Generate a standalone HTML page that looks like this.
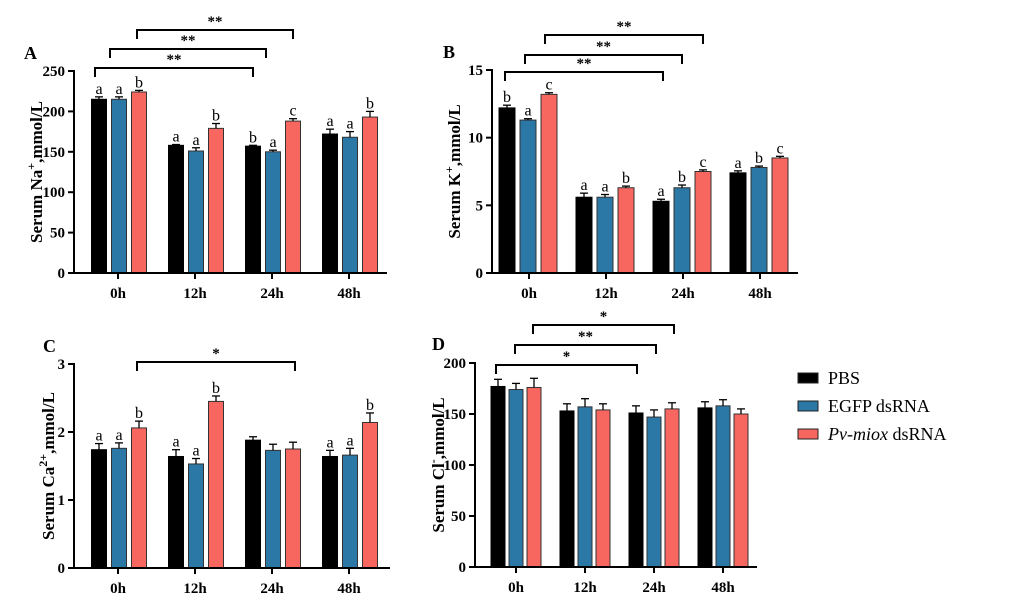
<!DOCTYPE html>
<html><head><meta charset="utf-8"><style>
html,body{margin:0;padding:0;background:#fff;}
svg{display:block;font-family:"Liberation Serif",serif;}
</style></head><body>
<svg id="fig" width="1016" height="601" viewBox="0 0 1016 601" xmlns="http://www.w3.org/2000/svg"></svg>
<script>
const categories = ["0h","12h","24h","48h"];
const seriesNames = ["PBS","EGFP dsRNA","Pv-miox dsRNA"];
const colors = ["#000000","#2b77a6","#f7665f"];
// Panel A Na+
const naPBS = [215,158,157,172], naEGFP = [215,151,150,168], naMiox = [224,179,188,193];
const naErrPBS = [3,1,1,6], naErrEGFP = [3,4,2,7], naErrMiox = [2,6,3,7];
const naLetters = [["a","a","b"],["a","a","b"],["b","a","c"],["a","a","b"]];
const naTicks = [0,50,100,150,200,250];
// Panel B K+
const kPBS = [12.2,5.6,5.3,7.4], kEGFP = [11.3,5.6,6.3,7.8], kMiox = [13.2,6.3,7.5,8.5];
const kErrPBS = [0.2,0.3,0.15,0.15], kErrEGFP = [0.1,0.2,0.2,0.1], kErrMiox = [0.12,0.12,0.12,0.12];
const kLetters = [["b","a","c"],["a","a","b"],["a","b","c"],["a","b","c"]];
const kTicks = [0,5,10,15];
// Panel C Ca2+
const caPBS = [1.74,1.64,1.88,1.64], caEGFP = [1.76,1.53,1.73,1.66], caMiox = [2.06,2.45,1.75,2.14];
const caErrPBS = [0.09,0.1,0.05,0.09], caErrEGFP = [0.08,0.08,0.09,0.1], caErrMiox = [0.1,0.08,0.1,0.14];
const caLetters = [["a","a","b"],["a","a","b"],["","",""],["a","a","b"]];
const caTicks = [0,1,2,3];
// Panel D Cl-
const clPBS = [177,153,151,156], clEGFP = [174,157,147,158], clMiox = [176,154,155,150];
const clErrPBS = [7,7,7,6], clErrEGFP = [6,8,7,6], clErrMiox = [9,6,6,5];
const clLetters = [["","",""],["","",""],["","",""],["","",""]];
const clTicks = [0,50,100,150,200];

const NS="http://www.w3.org/2000/svg";
const svg=document.getElementById('fig');
function el(tag,attrs,parent){const e=document.createElementNS(NS,tag);for(const k in attrs)e.setAttribute(k,attrs[k]);(parent||svg).appendChild(e);return e;}

function panel(p){
  const g=el('g',{});
  
  
  const ymax=p.ticks[p.ticks.length-1];
  const ys=v=>p.y0-(v/ymax)*(p.y0-p.yTop);
  const xc=i=>p.x0c+i*p.step;
  const series=[p.s1,p.s2,p.s3], errs=[p.e1,p.e2,p.e3];
  for(let i=0;i<categories.length;i++){
    for(let s=0;s<3;s++){
      const cx=xc(i)+p.offs[s], v=series[s][i], top=ys(v);
      const r=el('rect',{x:cx-p.bw/2,y:top,width:p.bw,height:p.y0-top,fill:colors[s],stroke:s==0?'#000':'#333','stroke-width':1},g);
      
      
      const et=ys(v+errs[s][i]);
      el('line',{x1:cx,x2:cx,y1:top,y2:et,stroke:'#000','stroke-width':1.3},g);
      el('line',{x1:cx-4,x2:cx+4,y1:et,y2:et,stroke:'#000','stroke-width':1.3},g);
      const L=p.letters[i][s];
      if(L){const t=el('text',{x:cx,y:et-3,'text-anchor':'middle','font-size':16,fill:'#000'},g);t.textContent=L;
        }
    }
    const xt=xc(i);
    el('line',{x1:xt,x2:xt,y1:p.y0,y2:p.y0+6,stroke:'#000','stroke-width':2},g);
    const t=el('text',{x:xt,y:p.y0+25,'text-anchor':'middle','font-size':15,'font-weight':'bold'},g);
    t.textContent=categories[i];
    
  }
  el('line',{x1:p.ax,x2:p.ax,y1:p.yTop-1,y2:p.y0+1,stroke:'#000','stroke-width':2},g);
  el('line',{x1:p.ax-1,x2:p.axEnd,y1:p.y0,y2:p.y0,stroke:'#000','stroke-width':2},g);
  p.ticks.forEach(tv=>{
    const y=ys(tv);
    el('line',{x1:p.ax-6,x2:p.ax,y1:y,y2:y,stroke:'#000','stroke-width':2},g);
    const t=el('text',{x:p.ax-9,y:y+5,'text-anchor':'end','font-size':15,'font-weight':'bold'},g);
    t.textContent=tv;
    
  });
  const tt=el('text',{transform:`translate(${p.titleX},${(p.y0+p.yTop)/2}) rotate(-90)`,'text-anchor':'middle','font-size':17,'font-weight':'bold'},g);
  
  tt.appendChild(document.createTextNode('Serum '+p.ion));
  const sp=el('tspan',{dy:-7,'font-size':12},tt);sp.textContent=p.sup;
  const sp2=el('tspan',{dy:7},tt);sp2.textContent=',mmol/L';
  const pl=el('text',{x:p.lx,y:p.ly,'font-size':18,'font-weight':'bold'},g);pl.textContent=p.label;
  
  p.brackets.forEach(b=>{
    el('path',{d:`M${b[0]},${b[2]+9} V${b[2]} H${b[1]} V${b[2]+9}`,fill:'none',stroke:'#000','stroke-width':2},g);
    const t=el('text',{x:(b[0]+b[1])/2,y:b[2]-4,'text-anchor':'middle','font-size':15,'font-weight':'bold'},g);
    t.textContent=b[3];
    
  });
}

panel({name:'panel-a-sodium',label:'A',lx:24,ly:59,ion:'Na',sup:'+',titleX:42,ax:74,axEnd:387,y0:273,yTop:71,x0c:118,step:77,bw:15,offs:[-19,1,21],
  s1:naPBS,s2:naEGFP,s3:naMiox,e1:naErrPBS,e2:naErrEGFP,e3:naErrMiox,letters:naLetters,ticks:naTicks,
  brackets:[[95,253,68,'**'],[110,266,49,'**'],[137,293,30,'**']]});
panel({name:'panel-b-potassium',label:'B',lx:443,ly:58,ion:'K',sup:'+',titleX:460,ax:492,axEnd:798,y0:273,yTop:70,x0c:529,step:77,bw:16,offs:[-22,-1,20],
  s1:kPBS,s2:kEGFP,s3:kMiox,e1:kErrPBS,e2:kErrEGFP,e3:kErrMiox,letters:kLetters,ticks:kTicks,
  brackets:[[505,663,72,'**'],[525,682,55,'**'],[545,703,35,'**']]});
panel({name:'panel-c-calcium',label:'C',lx:43,ly:352,ion:'Ca',sup:'2+',titleX:54,ax:74,axEnd:390,y0:568,yTop:364,x0c:118,step:77,bw:15,offs:[-19,1,21],
  s1:caPBS,s2:caEGFP,s3:caMiox,e1:caErrPBS,e2:caErrEGFP,e3:caErrMiox,letters:caLetters,ticks:caTicks,
  brackets:[[137,295,362,'*']]});
panel({name:'panel-d-chloride',label:'D',lx:432,ly:350,ion:'Cl',sup:'-',titleX:444,ax:475,axEnd:757,y0:567,yTop:363,x0c:516,step:69,bw:14,offs:[-18,0,18],
  s1:clPBS,s2:clEGFP,s3:clMiox,e1:clErrPBS,e2:clErrEGFP,e3:clErrMiox,letters:clLetters,ticks:clTicks,
  brackets:[[496,637,365,'*'],[515,656,345,'**'],[533,674,325,'*']]});

const lg=el('g',{});


seriesNames.forEach((n,i)=>{
  const y=378+i*28;
  const r=el('rect',{x:798,y:y-5,width:20,height:10,fill:colors[i],stroke:'#222','stroke-width':1},lg);
  
  const t=el('text',{x:828,y:y+6,'font-size':18},lg);
  
  if(i==2){const it=el('tspan',{'font-style':'italic'},t);it.textContent='Pv-miox';t.appendChild(document.createTextNode(' dsRNA'));}
  else t.textContent=n;
});
</script>
</body></html>
